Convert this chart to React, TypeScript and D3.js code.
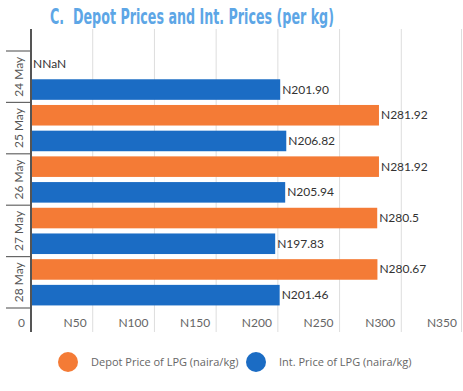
import React, { useEffect, useRef, useState } from "react";
import * as d3 from "d3";

const dates = ["24 May", "25 May", "26 May", "27 May", "28 May"];
const depotPrices = [NaN, 281.92, 281.92, 280.5, 280.67];
const intPrices = [201.9, 206.82, 205.94, 197.83, 201.46];
const xTicks = [0, 50, 100, 150, 200, 250, 300, 350];
const seriesNames = ["Depot Price of LPG (naira/kg)", "Int. Price of LPG (naira/kg)"];
const seriesColors = ["#F47B36", "#1B6CC4"];
const titleText = "C.  Depot Prices and Int. Prices (per kg)";

const W = 463;
const H = 391;

export default function App() {
  const plotLeft = 31;
  const plotRight = 463;
  const plotTop = 29;
  const plotBottom = 332;
  const bandTop = 51;
  const bandBottom = 308;

  const titleRef = useRef<SVGTextElement>(null);
  const [titleScale, setTitleScale] = useState(0.72);
  useEffect(() => {
    if (titleRef.current) {
      const len = titleRef.current.getComputedTextLength();
      if (len > 0) setTitleScale(284 / len);
    }
  }, []);

  const x = d3.scaleLinear().domain([0, 350]).range([plotLeft, plotRight]);
  const y = d3.scaleBand().domain(dates).range([bandTop, bandBottom]).padding(0);
  const inner = d3
    .scaleBand()
    .domain(["depot", "intl"])
    .range([0, y.bandwidth()])
    .paddingInner(0.2)
    .paddingOuter(0.1);

  const fmtDepot = (v: number) => "N" + String(v);
  const fmtInt = (v: number) => "N" + v.toFixed(2);

  const boundaries = [...dates.map((d) => y(d) as number), bandBottom];

  return (
    <div style={{ position: "fixed", left: 0, top: 0, width: W, height: H, overflow: "hidden" }}>
      <svg width={W} height={H} style={{ display: "block", background: "#fff" }}>
        {/* title */}
        <text
          ref={titleRef}
          transform={`translate(50,24) scale(${titleScale},1)`}
          fontFamily="'DejaVu Sans Condensed', 'DejaVu Sans', sans-serif"
          fontWeight="bold"
          fontSize={21.5}
          fill="#5DA6E6"
          style={{ whiteSpace: "pre" }}
        >
          {titleText}
        </text>

        {/* gridlines */}
        {xTicks.slice(1).map((t) => (
          <line
            key={t}
            x1={Math.min(x(t), W - 1.5)}
            x2={Math.min(x(t), W - 1.5)}
            y1={plotTop}
            y2={plotBottom}
            stroke="#DDDDDD"
            strokeWidth={1}
          />
        ))}

        {/* bars */}
        {dates.map((d, i) => {
          const by = y(d) as number;
          const dv = depotPrices[i];
          const iv = intPrices[i];
          const dy = by + (inner("depot") as number);
          const iy = by + (inner("intl") as number);
          const bh = inner.bandwidth();
          return (
            <g key={d}>
              {isFinite(dv) && (
                <rect x={x(0)} y={dy} width={x(dv) - x(0)} height={bh} fill={seriesColors[0]} />
              )}
              <text
                x={(isFinite(dv) ? x(dv) : x(0)) + 2}
                y={dy + bh / 2 + 4}
                fontFamily="Lato, sans-serif"
                fontSize={12}
                fill="#333"
              >
                {fmtDepot(dv)}
              </text>
              <rect x={x(0)} y={iy} width={x(iv) - x(0)} height={bh} fill={seriesColors[1]} />
              <text x={x(iv) + 2} y={iy + bh / 2 + 4} fontFamily="Lato, sans-serif" fontSize={12} fill="#333">
                {fmtInt(iv)}
              </text>
            </g>
          );
        })}

        {/* category ticks */}
        {boundaries.map((b, i) => (
          <line key={i} x1={6} x2={plotLeft} y1={b} y2={b} stroke="#666" strokeWidth={1.2} />
        ))}
        {/* category labels */}
        {dates.map((d) => {
          const cy = (y(d) as number) + y.bandwidth() / 2;
          return (
            <text
              key={d}
              transform={`translate(${18},${cy}) rotate(-90)`}
              textAnchor="middle"
              dominantBaseline="central"
              fontFamily="Lato, sans-serif"
              fontSize={12}
              fill="#555"
            >
              {d}
            </text>
          );
        })}

        {/* axis line */}
        <line x1={plotLeft} x2={plotLeft} y1={plotTop} y2={plotBottom} stroke="#555" strokeWidth={2} />

        {/* x tick labels */}
        {xTicks.map((t) => (
          <text
            key={t}
            x={x(t) - 6}
            y={327}
            textAnchor="end"
            fontFamily="Lato, sans-serif"
            fontSize={12}
            fill="#666"
          >
            {t === 0 ? "0" : "N" + t}
          </text>
        ))}

        {/* legend */}
        {seriesNames.map((n, i) => {
          const cx = i === 0 ? 68 : 256;
          return (
            <g key={n}>
              <circle cx={cx} cy={362} r={10} fill={seriesColors[i]} />
              <text x={cx + 23} y={366} fontFamily="'Open Sans', sans-serif" fontSize={11} fill="#666">
                {n}
              </text>
            </g>
          );
        })}
      </svg>
    </div>
  );
}
